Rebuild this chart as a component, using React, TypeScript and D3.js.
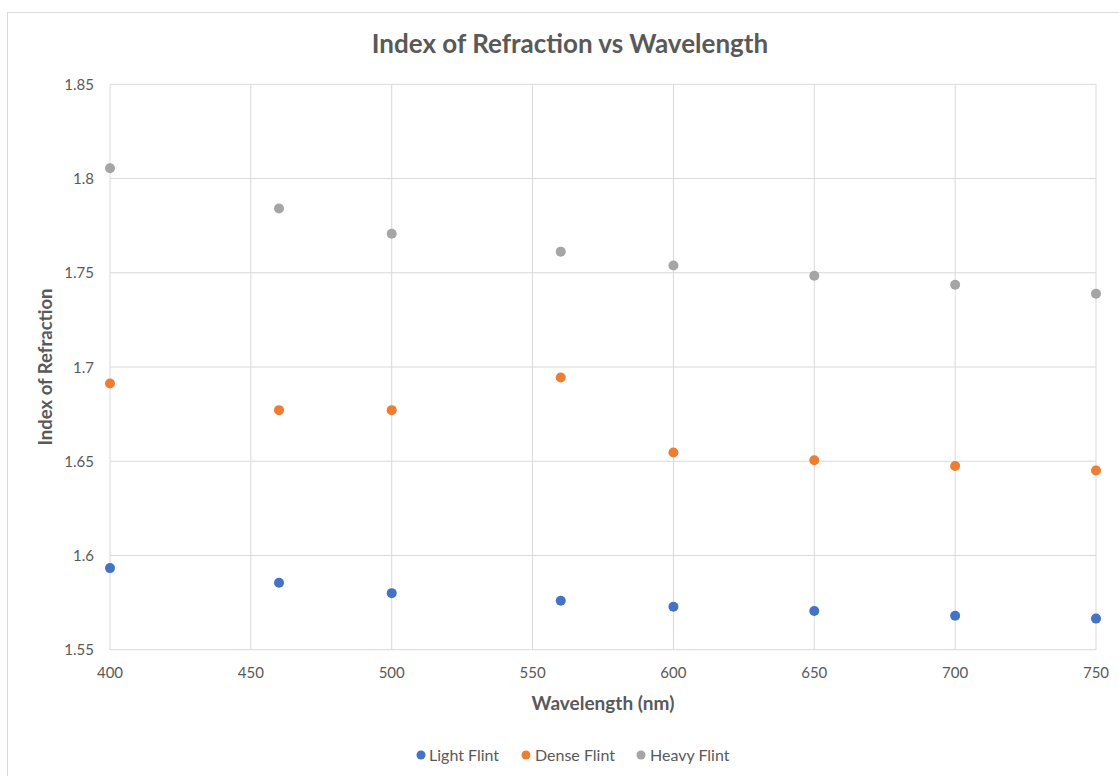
import React from "react";
import * as d3 from "d3";

// Wavelength (nm) at which each glass was measured
const wavelengths = [400, 460, 500, 560, 600, 650, 700, 750];

// Index of refraction for each glass type
const lightFlint = [1.5933, 1.5855, 1.58, 1.576, 1.5728, 1.5705, 1.568, 1.5665];
const denseFlint = [1.6912, 1.6771, 1.6771, 1.6944, 1.6546, 1.6505, 1.6475, 1.6451];
const heavyFlint = [1.8055, 1.7841, 1.7707, 1.7612, 1.7539, 1.7484, 1.7436, 1.7389];

const xTicks = [400, 450, 500, 550, 600, 650, 700, 750];
const yTicks = [1.55, 1.6, 1.65, 1.7, 1.75, 1.8, 1.85];

const seriesNames = ["Light Flint", "Dense Flint", "Heavy Flint"];
const seriesColors = ["#4472C4", "#ED7D31", "#A5A5A5"];

const W = 1119;
const H = 776;
const plot = { left: 110, right: 1096, top: 84.3, bottom: 649.7 };
const FONT = "Lato, 'Open Sans', sans-serif";
const TEXT = "#595959";

export default function App() {
  const x = d3.scaleLinear().domain([400, 750]).range([plot.left, plot.right]);
  const y = d3.scaleLinear().domain([1.55, 1.85]).range([plot.bottom, plot.top]);

  const series = [lightFlint, denseFlint, heavyFlint].map((vals, i) => ({
    name: seriesNames[i],
    color: seriesColors[i],
    points: vals.map((v, j) => ({ wl: wavelengths[j], n: v })),
  }));

  const fmt = (v: number) => String(+v.toFixed(2));

  const legendItems = [
    { dot: 421, text: 429 },
    { dot: 526, text: 535 },
    { dot: 641, text: 650 },
  ];

  return (
    <svg
      width={W}
      height={H}
      style={{ position: "absolute", left: 0, top: 0, background: "#fff" }}
      fontFamily={FONT}
    >
      <rect x={7.5} y={12.5} width={W + 20} height={H + 20} fill="#fff" stroke="#D9D9D9" />

      <text x={570} y={53} textAnchor="middle" fontSize={26} fontWeight="bold" fill={TEXT}>
        Index of Refraction vs Wavelength
      </text>

      {/* gridlines */}
      {yTicks.map((t) => (
        <line key={"gy" + t} x1={plot.left} x2={plot.right} y1={y(t)} y2={y(t)} stroke="#D9D9D9" strokeWidth={1} />
      ))}
      {xTicks.map((t) => (
        <line key={"gx" + t} x1={x(t)} x2={x(t)} y1={plot.top} y2={plot.bottom} stroke="#D9D9D9" strokeWidth={1} />
      ))}

      {/* tick labels */}
      {yTicks.map((t) => (
        <text key={"ty" + t} x={94} y={y(t) + 5.5} textAnchor="end" fontSize={15} fill={TEXT}>
          {fmt(t)}
        </text>
      ))}
      {xTicks.map((t) => (
        <text key={"tx" + t} x={x(t)} y={678} textAnchor="middle" fontSize={15} fill={TEXT}>
          {t}
        </text>
      ))}

      {/* axis titles */}
      <text x={603} y={710} textAnchor="middle" fontSize={19} fontWeight="bold" fill={TEXT}>
        Wavelength (nm)
      </text>
      <text
        transform={`translate(52, ${(plot.top + plot.bottom) / 2}) rotate(-90)`}
        textAnchor="middle"
        fontSize={18.5}
        fontWeight="bold"
        fill={TEXT}
      >
        Index of Refraction
      </text>

      {/* points */}
      {series.map((s) => (
        <g key={s.name}>
          {s.points.map((p) => (
            <circle key={p.wl} cx={x(p.wl)} cy={y(p.n)} r={5} fill={s.color} />
          ))}
        </g>
      ))}

      {/* legend */}
      {series.map((s, i) => (
        <g key={"lg" + s.name}>
          <circle cx={legendItems[i].dot} cy={755} r={4.5} fill={s.color} />
          <text x={legendItems[i].text} y={761} fontSize={16} fill={TEXT}>
            {s.name}
          </text>
        </g>
      ))}
    </svg>
  );
}
